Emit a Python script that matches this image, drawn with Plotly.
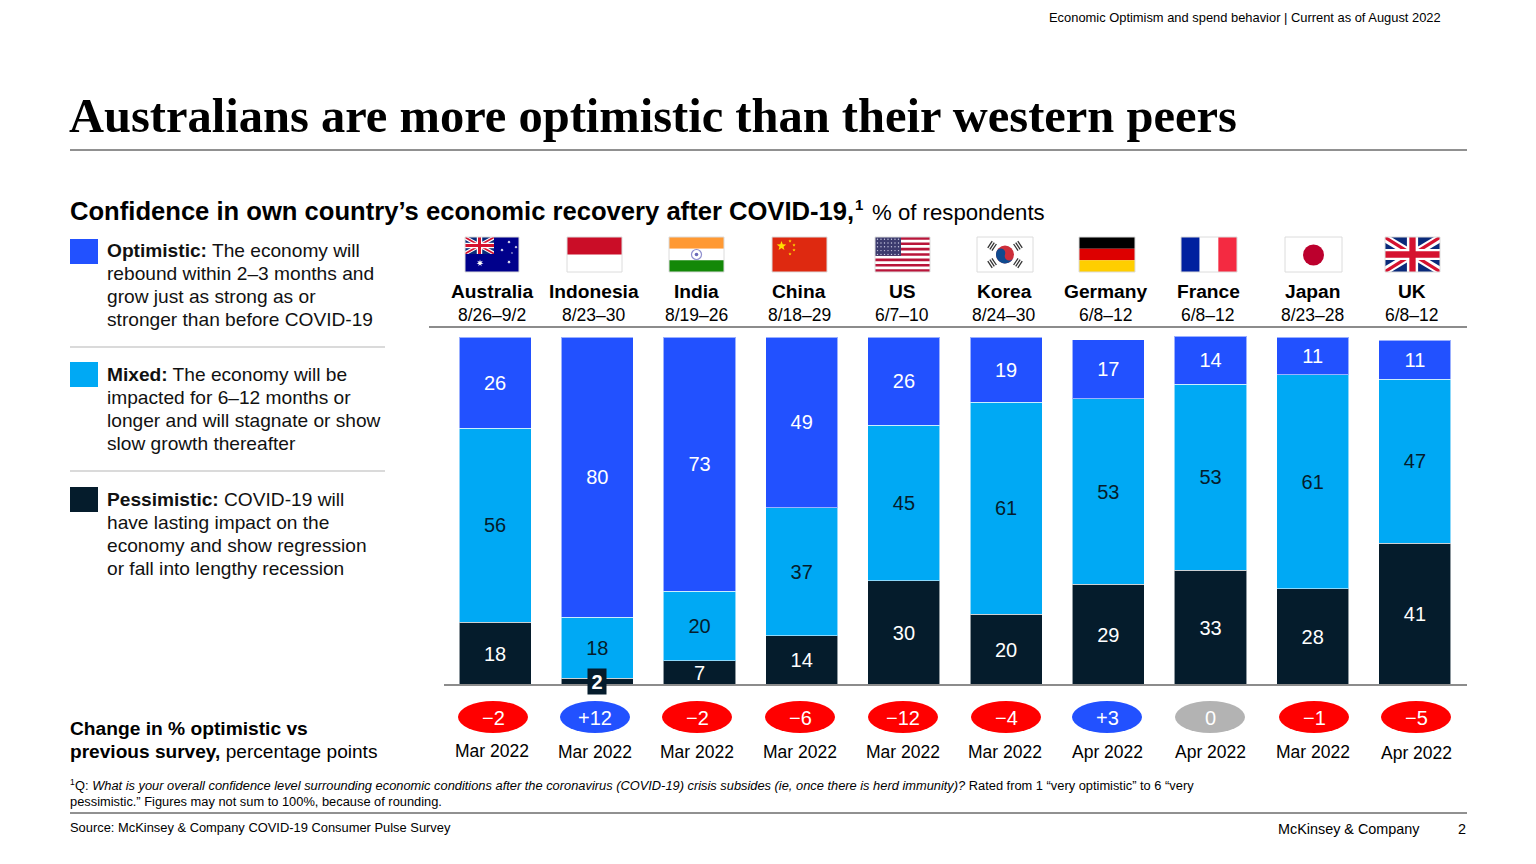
import math
import plotly.graph_objects as go

# ---------- data ----------
countries = ["Australia", "Indonesia", "India", "China", "US", "Korea", "Germany", "France", "Japan", "UK"]
field_dates = ["8/26–9/2", "8/23–30", "8/19–26", "8/18–29", "6/7–10", "8/24–30", "6/8–12", "6/8–12", "8/23–28", "6/8–12"]
# printed percentages
optimistic_labels = [26, 80, 73, 49, 26, 19, 17, 14, 11, 11]
mixed_labels = [56, 18, 20, 37, 45, 61, 53, 53, 61, 47]
pessimistic_labels = [18, 2, 7, 14, 30, 20, 29, 33, 28, 41]
# segment heights as drawn in the picture (unrounded)
optimistic = [26.1, 80.5, 73.0, 49.1, 25.3, 18.7, 17.0, 13.8, 10.9, 11.2]
mixed = [55.7, 17.5, 20.1, 36.8, 44.8, 60.9, 53.2, 53.4, 61.5, 47.1]
pessimistic = [18.1, 2.0, 6.9, 14.1, 29.9, 20.4, 29.0, 33.0, 27.6, 40.8]
change = ["−2", "+12", "−2", "−6", "−12", "−4", "+3", "0", "−1", "−5"]
previous_survey = ["Mar 2022", "Mar 2022", "Mar 2022", "Mar 2022", "Mar 2022", "Mar 2022", "Apr 2022", "Apr 2022", "Mar 2022", "Apr 2022"]

# ---------- style / layout ----------
W, H = 1536, 864
BLUE, CYAN, NAVY = "#2251ff", "#00a9f4", "#051c2c"
RED, GREY = "#ff0000", "#b3b3b3"
SANS = "Liberation Sans"
SERIF = "Liberation Serif"
PLOT_L, PLOT_R, BASE = 444, 1466, 685
PX_PER_UNIT = 3.48
YMAX = 102
name_x = [492, 594, 696, 799, 902, 1004, 1106, 1208, 1312, 1412]
oval_x = [493, 595, 697, 800, 903, 1006, 1107, 1210, 1314, 1416]
date_x = [492, 595, 697, 800, 903, 1005, 1107, 1210, 1313, 1416]
date_y = [751, 752, 752, 752, 752, 752, 752, 752, 752, 753]
flag_x = [(465, 519), (567, 622), (669, 724), (772, 827), (875, 930),
          (977, 1033), (1079, 1135), (1181, 1237), (1285, 1342), (1385, 1440)]
FY0, FY1 = 237, 272

px = lambda x: x / W
py = lambda y: 1 - y / H
shapes, annos = [], []


def text(x, y, s, size, color="#000000", anchor="left", family=SANS):
    # annotations carry about 2px of inner padding on each side
    nudge = {"left": -2, "right": 2, "center": 0}[anchor]
    annos.append(dict(x=px(x + nudge), y=py(y), xref="paper", yref="paper", text=s, showarrow=False,
                      xanchor=anchor, yanchor="middle", align=anchor,
                      font=dict(family=family, size=size, color=color)))


def rect(x0, y0, x1, y1, fill, line=None, lw=1):
    shapes.append(dict(type="rect", xref="paper", yref="paper", x0=px(x0), x1=px(x1), y0=py(y0), y1=py(y1),
                       fillcolor=fill, line=dict(color=line or fill, width=lw if line else 0)))


def hline(x0, x1, y, color, w=1):
    shapes.append(dict(type="line", xref="paper", yref="paper", x0=px(x0), x1=px(x1), y0=py(y), y1=py(y),
                       line=dict(color=color, width=w)))


def poly(points, fill):
    d = "M" + "L".join(f"{px(a):.5f},{py(b):.5f}" for a, b in points) + "Z"
    shapes.append(dict(type="path", xref="paper", yref="paper", path=d, fillcolor=fill, line=dict(width=0)))


def circle(cx, cy, r, fill, line=None, lw=1):
    shapes.append(dict(type="circle", xref="paper", yref="paper", x0=px(cx - r), x1=px(cx + r),
                       y0=py(cy - r), y1=py(cy + r), fillcolor=fill,
                       line=dict(color=line or fill, width=lw if line else 0)))


def star(cx, cy, r, fill, n=5):
    pts = []
    for k in range(2 * n):
        rr = r if k % 2 == 0 else r * 0.42
        a = -math.pi / 2 + k * math.pi / n
        pts.append((cx + rr * math.cos(a), cy + rr * math.sin(a)))
    poly(pts, fill)


def union_jack(x0, y0, x1, y1):
    w, h = x1 - x0, y1 - y0
    rect(x0, y0, x1, y1, "#0a2a7a")
    for t, c in ((0.11, "#ffffff"), (0.045, "#d5122f")):
        dx, dy = w * t, h * t * 1.5
        poly([(x0, y0), (x0 + dx, y0), (x1, y1 - dy), (x1, y1), (x1 - dx, y1), (x0, y0 + dy)], c)
        poly([(x1, y0), (x1 - dx, y0), (x0, y1 - dy), (x0, y1), (x0 + dx, y1), (x1, y0 + dy)], c)
    cx, cy = (x0 + x1) / 2, (y0 + y1) / 2
    rect(cx - h * 0.16, y0, cx + h * 0.16, y1, "#ffffff")
    rect(x0, cy - h * 0.16, x1, cy + h * 0.16, "#ffffff")
    rect(cx - h * 0.09, y0, cx + h * 0.09, y1, "#d5122f")
    rect(x0, cy - h * 0.09, x1, cy + h * 0.09, "#d5122f")


def border(x0, x1):
    shapes.append(dict(type="rect", xref="paper", yref="paper", x0=px(x0), x1=px(x1), y0=py(FY0), y1=py(FY1),
                       fillcolor="rgba(0,0,0,0)", line=dict(color="#dcdcdc", width=1)))


def draw_flags():
    # Australia
    x0, x1 = flag_x[0]
    rect(x0, FY0, x1, FY1, "#00008b")
    union_jack(x0, FY0, x0 + 29, FY0 + 17)
    star(x0 + 15, FY1 - 9, 3.6, "#ffffff", 7)
    for a, b, r in ((44, 5, 1.7), (37, 13, 1.7), (44, 25, 1.9), (51, 10, 1.6), (47, 16, 1)):
        star(x0 + a, FY0 + b, r, "#ffffff", 7)
    border(x0, x1)
    # Indonesia
    x0, x1 = flag_x[1]
    rect(x0, FY0, x1, FY1, "#ffffff")
    rect(x0, FY0, x1, (FY0 + FY1) / 2, "#ca0d27")
    border(x0, x1)
    # India
    x0, x1 = flag_x[2]
    t = (FY1 - FY0) / 3
    rect(x0, FY0, x1, FY0 + t, "#ff9933")
    rect(x0, FY0 + t, x1, FY0 + 2 * t, "#ffffff")
    rect(x0, FY0 + 2 * t, x1, FY1, "#138808")
    circle((x0 + x1) / 2, (FY0 + FY1) / 2, 5, "rgba(0,0,0,0)", "#8f8fcf", 1.2)
    circle((x0 + x1) / 2, (FY0 + FY1) / 2, 1.8, "#6a6ab8")
    border(x0, x1)
    # China
    x0, x1 = flag_x[3]
    rect(x0, FY0, x1, FY1, "#de2910")
    star(x0 + 9.5, FY0 + 9, 5, "#ffde00")
    for a, b in ((18, 4), (22, 8), (22, 13), (18, 17)):
        star(x0 + a, FY0 + b, 1.7, "#ffde00")
    border(x0, x1)
    # US
    x0, x1 = flag_x[4]
    s = (FY1 - FY0) / 13
    rect(x0, FY0, x1, FY1, "#ffffff")
    for k in range(0, 13, 2):
        rect(x0, FY0 + k * s, x1, FY0 + (k + 1) * s, "#b9153a")
    rect(x0, FY0, x0 + 26, FY0 + 7 * s, "#3c3b6e")
    for i in range(7):
        for j in range(5):
            circle(x0 + 2.5 + i * 3.5, FY0 + 2.2 + j * 3.8, 0.7, "#c8c8e0")
    border(x0, x1)
    # Korea
    x0, x1 = flag_x[5]
    cx, cy = (x0 + x1) / 2, (FY0 + FY1) / 2
    rect(x0, FY0, x1, FY1, "#ffffff")
    circle(cx, cy, 9, "#cd2e3a")
    R = 9
    wave = []
    ang = math.radians(20)
    for k in range(0, 181, 12):
        a = ang + math.radians(k)
        wave.append((cx + R * math.cos(a), cy + R * math.sin(a)))
    a1, a2 = ang + math.pi, ang
    for k in range(0, 181, 15):
        a = a1 + math.radians(k)
        wave.append((cx + R / 2 * math.cos(a2) * -1 + R / 2 * math.cos(a), cy - R / 2 * math.sin(a2) + R / 2 * math.sin(a)))
    for k in range(0, 181, 15):
        a = a1 - math.radians(k)
        wave.append((cx + R / 2 * math.cos(a2) + R / 2 * math.cos(a), cy + R / 2 * math.sin(a2) + R / 2 * math.sin(a)))
    poly(wave, "#0f4a8f")
    for sx, sy in ((-1, -1), (1, -1), (-1, 1), (1, 1)):
        ux, uy = sx * 0.83, sy * 0.55
        n = math.hypot(ux, uy)
        ux, uy = ux / n, uy / n
        vx, vy = -uy, ux
        for d in (13, 15.5, 18):
            c0 = (cx + ux * d, cy + uy * d)
            shapes.append(dict(type="line", xref="paper", yref="paper",
                               x0=px(c0[0] - vx * 4), x1=px(c0[0] + vx * 4),
                               y0=py(c0[1] - vy * 4), y1=py(c0[1] + vy * 4),
                               line=dict(color="#333333", width=1.3)))
    border(x0, x1)
    # Germany
    x0, x1 = flag_x[6]
    t = (FY1 - FY0) / 3
    rect(x0, FY0, x1, FY0 + t, "#000000")
    rect(x0, FY0 + t, x1, FY0 + 2 * t, "#dd0000")
    rect(x0, FY0 + 2 * t, x1, FY1, "#ffce00")
    border(x0, x1)
    # France
    x0, x1 = flag_x[7]
    t = (x1 - x0) / 3
    rect(x0, FY0, x0 + t, FY1, "#00209f")
    rect(x0 + t, FY0, x0 + 2 * t, FY1, "#ffffff")
    rect(x0 + 2 * t, FY0, x1, FY1, "#f42a41")
    border(x0, x1)
    # Japan
    x0, x1 = flag_x[8]
    rect(x0, FY0, x1, FY1, "#ffffff")
    circle((x0 + x1) / 2, (FY0 + FY1) / 2 + 0.5, 10.5, "#bc002d")
    border(x0, x1)
    # UK
    x0, x1 = flag_x[9]
    union_jack(x0, FY0, x1, FY1)
    border(x0, x1)


# ---------- page furniture ----------
text(1441, 17, "Economic Optimism and spend behavior | Current as of August 2022", 12.9, anchor="right")
text(69, 115.5, "<b>Australians are more optimistic than their western peers</b>", 48.5, family=SERIF)
hline(70, 1467, 150, "#222222", 1)
text(70, 211, "<b>Confidence in own country’s economic recovery after COVID-19,</b>", 25.6)
text(855, 204, "<b>1</b>", 15)
text(872, 212.5, "% of respondents", 22.2)

# legend
legend_blocks = [
    (BLUE, 239, ["<b>Optimistic:</b> The economy will", "rebound within 2–3 months and",
                 "grow just as strong as or", "stronger than before COVID-19"], 250.5),
    (CYAN, 362, ["<b>Mixed:</b> The economy will be", "impacted for 6–12 months or",
                 "longer and will stagnate or show", "slow growth thereafter"], 374.5),
    (NAVY, 487, ["<b>Pessimistic:</b> COVID-19 will", "have lasting impact on the",
                 "economy and show regression", "or fall into lengthy recession"], 499.5),
]
for col, top, lines, ly in legend_blocks:
    rect(70, top, 98, top + 25, col)
    for k, ln in enumerate(lines):
        text(107, ly + 23 * k, ln, 19.15, "#111111")
hline(70, 385, 347, "#b5b5b5", 1.2)
hline(70, 385, 471, "#b5b5b5", 1.2)

# header above bars
draw_flags()
for i, c in enumerate(countries):
    text(name_x[i], 291, f"<b>{c}</b>", 19.2, anchor="center")
    text(name_x[i], 315, field_dates[i], 17.5, anchor="center")
hline(429, 1467, 327, "#8c8c8c", 2)
hline(PLOT_L, 1467, BASE, "#8c8c8c", 2)

# change row
text(70, 728.5, "<b>Change in % optimistic vs</b>", 19.2)
text(70, 751.5, "<b>previous survey,</b> percentage points", 19.1)
for i, c in enumerate(change):
    col = GREY if c == "0" else (BLUE if c.startswith("+") else RED)
    shapes.append(dict(type="circle", xref="paper", yref="paper", x0=px(oval_x[i] - 35), x1=px(oval_x[i] + 35),
                       y0=py(733), y1=py(701), fillcolor=col, line=dict(width=0)))
    text(oval_x[i], 717.5, c, 20, "#ffffff", "center")
    text(date_x[i], date_y[i], previous_survey[i], 17.5, anchor="center")

# footer
text(70, 782, "1", 8.5)
text(75, 785.5, "Q: <i>What is your overall confidence level surrounding economic conditions after the coronavirus (COVID-19) crisis subsides (ie, once there is herd immunity)?</i> Rated from 1 “very optimistic” to 6 “very", 12.85)
text(70, 801, "pessimistic.” Figures may not sum to 100%, because of rounding.", 12.85)
hline(70, 1467, 813, "#222222", 1)
text(70, 827.5, "Source: McKinsey &amp; Company COVID-19 Consumer Pulse Survey", 12.9)
text(1278, 829, "McKinsey &amp; Company", 14.4)
text(1466, 829, "2", 14.4, anchor="right")

# ---------- bars ----------
xs = list(range(len(countries)))
fig = go.Figure()
series = [
    ("Pessimistic", pessimistic, pessimistic_labels, NAVY),
    ("Mixed", mixed, mixed_labels, CYAN),
    ("Optimistic", optimistic, optimistic_labels, BLUE),
]
for name, vals, labels, col in series:
    txt = [None if v == 2 else str(v) for v in labels]
    fig.add_trace(go.Bar(x=xs, y=vals, name=name, text=txt, textposition="inside",
                         insidetextanchor="middle", textangle=0, constraintext="none",
                         textfont=dict(family=SANS, size=20, color="#ffffff" if col != CYAN else "#051c2c"),
                         marker=dict(color=col, line=dict(color="rgba(255,255,255,0.55)", width=1)),
                         hoverinfo="skip", showlegend=False))

# the small "2" label sits in its own dark box
i2 = pessimistic_labels.index(2)
annos.append(dict(x=i2, y=(BASE - 681.5) / PX_PER_UNIT, xref="x", yref="y", text="<b>2</b>", showarrow=False,
                  width=16, height=23, bgcolor=NAVY, font=dict(family=SANS, size=20, color="#ffffff"),
                  xanchor="center", yanchor="middle"))

fig.update_layout(
    width=W, height=H, autosize=False, barmode="stack", bargap=0.295,
    margin=dict(l=0, r=0, t=0, b=0, pad=0), paper_bgcolor="#ffffff", plot_bgcolor="#ffffff",
    showlegend=False, shapes=shapes, annotations=annos,
    xaxis=dict(domain=[PLOT_L / W, PLOT_R / W], range=[-0.5, 9.5], visible=False, fixedrange=True),
    yaxis=dict(domain=[(H - BASE) / H, (H - (BASE - YMAX * PX_PER_UNIT)) / H], range=[0, YMAX],
               visible=False, fixedrange=True),
)
fig.write_html("out.html", config=dict(displayModeBar=False),
               post_script="document.body.style.margin='0';document.documentElement.style.overflow='hidden';")
